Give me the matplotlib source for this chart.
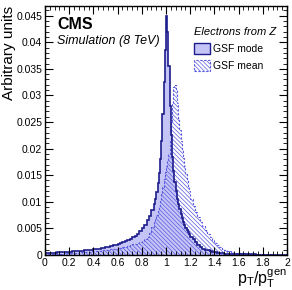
import matplotlib
matplotlib.use("Agg")
import matplotlib.pyplot as plt
import numpy as np
from matplotlib.patches import Patch
from matplotlib.ticker import MultipleLocator

plt.rcParams['font.family'] = ['Liberation Sans', 'DejaVu Sans']
plt.rcParams['hatch.linewidth'] = 0.5

# bin edges: 0.02 wide in the tails, 0.01 wide in the core 0.9-1.2
edges = np.concatenate([np.arange(0, 0.9, 0.02), np.arange(0.9, 1.2, 0.01),
                        np.arange(1.2, 2.0001, 0.02)])

# GSF mode (bin by bin)
gsf_mode = [
    # 0.00 - 0.90
    0.0003, 0.00033, 0.00036, 0.0004, 0.00043, 0.00046, 0.00049, 0.00052, 0.00055, 0.00058,
    0.00062, 0.00066, 0.0007, 0.00074, 0.00078, 0.00082, 0.00086, 0.0009, 0.00095, 0.001,
    0.00106, 0.00112, 0.00119, 0.00127, 0.00135, 0.00144, 0.00154, 0.00165, 0.00177, 0.0019,
    0.00205, 0.0022, 0.00237, 0.00256, 0.00277, 0.003, 0.0033, 0.0036, 0.004, 0.0045,
    0.005, 0.0057, 0.0065, 0.0074, 0.0085,
    # 0.90 - 1.20
    0.0095, 0.0106, 0.0119, 0.0135, 0.0155, 0.018, 0.0215, 0.0265, 0.0325, 0.0385,
    0.0449, 0.0420, 0.0355, 0.0280, 0.0225, 0.0185, 0.0158, 0.0138, 0.0121, 0.0106,
    0.0095, 0.0086, 0.0077, 0.0069, 0.0062, 0.0056, 0.0051, 0.0047, 0.0043, 0.0039,
    # 1.20 - 2.00
    0.0034, 0.0029, 0.0024, 0.0019, 0.0015, 0.0012, 0.0010, 0.00085, 0.0007, 0.0006,
    0.0005, 0.00042, 0.00036, 0.0003, 0.00026, 0.00022, 0.0002, 0.00018, 0.00016, 0.00014,
    0.00013, 0.00012, 0.00011, 0.0001, 0.00009, 0.00008, 0.00008, 0.00007, 0.00007, 0.00006,
    0.00006, 0.00005, 0.00005, 0.00005, 0.00004, 0.00004, 0.00004, 0.00003, 0.00003, 0.00003,
]

# GSF mean
gsf_mean = [
    # 0.00 - 0.90
    0.0001, 0.00012, 0.00014, 0.00016, 0.00018, 0.0002, 0.00023, 0.00026, 0.00029, 0.00032,
    0.00035, 0.00038, 0.00041, 0.00044, 0.00047, 0.0005, 0.00054, 0.00058, 0.00062, 0.00066,
    0.0007, 0.00074, 0.00078, 0.00083, 0.00088, 0.00093, 0.00099, 0.00105, 0.00112, 0.0012,
    0.00128, 0.00137, 0.00147, 0.00158, 0.0017, 0.00183, 0.00197, 0.00212, 0.00228, 0.00246,
    0.0027, 0.003, 0.0034, 0.0041, 0.0052,
    # 0.90 - 1.20
    0.0062, 0.0068, 0.0075, 0.0083, 0.0092, 0.0102, 0.0114, 0.0128, 0.0142, 0.0156,
    0.0168, 0.0178, 0.0190, 0.0215, 0.0250, 0.0285, 0.0315, 0.0320, 0.0310, 0.0285,
    0.0258, 0.0235, 0.0215, 0.0198, 0.0182, 0.0168, 0.0153, 0.0141, 0.0130, 0.0120,
    # 1.20 - 2.00
    0.0106, 0.0092, 0.0081, 0.0071, 0.0062, 0.0054, 0.0046, 0.0040, 0.0034, 0.0028,
    0.0023, 0.0019, 0.0015, 0.0012, 0.0009, 0.0008, 0.00065, 0.00055, 0.00045, 0.0004,
    0.00035, 0.0003, 0.00027, 0.00024, 0.00021, 0.00019, 0.00017, 0.00015, 0.00013, 0.00012,
    0.00011, 0.0001, 0.00009, 0.00008, 0.00007, 0.00006, 0.00005, 0.00005, 0.00004, 0.00004,
]

x_ticks = [0, 0.2, 0.4, 0.6, 0.8, 1, 1.2, 1.4, 1.6, 1.8, 2]
y_ticks = [0, 0.005, 0.01, 0.015, 0.02, 0.025, 0.03, 0.035, 0.04, 0.045]

fill_col = '#c4c4f6'
line_col = '#1c1c8c'
hatch_col = '#5a5ae0'
hatch = '\\' * 8

fig = plt.figure(figsize=(2.92, 2.90), dpi=100)
ax = fig.add_axes([0.154, 0.121, 0.829, 0.858])

ax.stairs(gsf_mode, edges, fill=True, facecolor=fill_col, edgecolor=fill_col, linewidth=0)
ax.stairs(gsf_mean, edges, fill=True, facecolor='none', edgecolor=hatch_col,
          hatch=hatch, linewidth=0)
ax.stairs(gsf_mean, edges, color=hatch_col, linestyle=(0, (2, 1.5)), linewidth=0.8)
ax.stairs(gsf_mode, edges, color=line_col, linewidth=1.2)

ax.set_xlim(0, 2)
ax.set_ylim(0, 0.0468)
ax.set_xticks(x_ticks, [f'{v:g}' for v in x_ticks], fontsize=7.5)
ax.set_yticks(y_ticks, [f'{v:g}' for v in y_ticks], fontsize=7.5)
ax.xaxis.set_minor_locator(MultipleLocator(0.04))
ax.yaxis.set_minor_locator(MultipleLocator(0.001))
ax.tick_params(which='both', direction='in', top=True, right=True, pad=2)
ax.tick_params(which='major', length=6, width=0.8)
ax.tick_params(which='minor', length=3, width=0.6)
for s in ax.spines.values():
    s.set_linewidth(1.0)

ax.set_ylabel('Arbitrary units', fontsize=11, loc='top', labelpad=0)
ax.set_xlabel(r'$\mathregular{p_T/p_T^{gen}}$', fontsize=11.5, loc='right', labelpad=0)

ax.text(0.05, 0.958, 'CMS', transform=ax.transAxes, fontsize=11.5, fontweight='bold', va='top')
ax.text(0.05, 0.885, 'Simulation (8 TeV)', transform=ax.transAxes, fontsize=9,
        style='italic', va='top')

handles = [
    Patch(facecolor=fill_col, edgecolor=line_col, linewidth=1.0, label='GSF mode'),
    Patch(facecolor='none', edgecolor=hatch_col, hatch=hatch, linestyle=(0, (2, 1.5)),
          linewidth=0.8, label='GSF mean'),
]
leg = ax.legend(handles=handles, loc='upper left', bbox_to_anchor=(0.58, 0.95),
                frameon=False, fontsize=7.5, title='Electrons from Z', title_fontsize=8,
                handlelength=1.6, handleheight=1.2, handletextpad=0.3, labelspacing=0.6,
                alignment='left', borderpad=0.3)
leg.get_title().set_style('italic')

fig.savefig('out.png', dpi=100)
